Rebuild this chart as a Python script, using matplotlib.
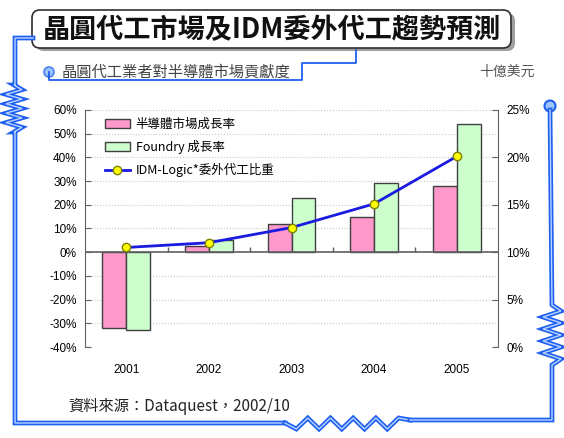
import matplotlib.pyplot as plt
import matplotlib.transforms as mtransforms
from matplotlib.lines import Line2D
from matplotlib.patches import Patch, FancyBboxPatch, Circle
import numpy as np

years = ["2001", "2002", "2003", "2004", "2005"]
semi_growth = [-32, 2.5, 12, 15, 28]          # 半導體市場成長率 (%)
foundry_growth = [-33, 5, 23, 29, 54]         # Foundry 成長率 (%)
idm_share = [10.5, 11.0, 12.6, 15.1, 20.1]    # IDM-Logic*委外代工比重 (%)

plt.rcParams['font.family'] = ['Liberation Sans', 'Noto Sans CJK TC', 'DejaVu Sans']

W, H = 564, 438
fig = plt.figure(figsize=(W / 100, H / 100), dpi=100)
fig.patch.set_facecolor('white')

# pixel coordinates (origin top-left) -> figure
pix = mtransforms.Affine2D().scale(1 / W, -1 / H).translate(0, 1) + fig.transFigure

ax = fig.add_axes([85 / W, 1 - 347 / H, 413 / W, 237 / H])
x = np.arange(len(years))
bw = 0.29
ax.bar(x - bw / 2, semi_growth, bw, color='#ff99cc', edgecolor='#404040', lw=1, zorder=3)
ax.bar(x + bw / 2, foundry_growth, bw, color='#ccffcc', edgecolor='#404040', lw=1, zorder=3)

ax.set_xlim(-0.5, len(years) - 0.5)
ax.set_ylim(-40, 60)
ax.set_yticks(range(-40, 61, 10))
ax.set_yticklabels([f"{v}%" for v in range(-40, 61, 10)], fontsize=8.5)
for v in range(-40, 61, 10):
    if v != 0:
        ax.axhline(v, color='#c8c8c8', lw=0.8, ls=':', zorder=1)
ax.axhline(0, color='#606060', lw=1.2, zorder=4)
ax.vlines(np.arange(0.5, len(years) - 1), 0, 2, color='#606060', lw=1, zorder=4)
ax.set_xticks(x)
ax.set_xticklabels(years, fontsize=8.5)
ax.tick_params(axis='x', length=0, pad=12)
ax.tick_params(axis='y', direction='in', length=4, color='#606060', pad=6)
for s in ['top', 'bottom', 'right']:
    ax.spines[s].set_visible(False)
ax.spines['left'].set_color('#606060')

ax2 = ax.twinx()
ax2.plot(x, idm_share, color='#1a1ae0', lw=2, marker='o', ms=6,
         mfc='#ffff00', mec='#808000', mew=1, zorder=5)
ax2.set_ylim(0, 25)
ax2.set_yticks(range(0, 26, 5))
ax2.set_yticklabels([f"{v}%" for v in range(0, 26, 5)], fontsize=8.5)
ax2.tick_params(axis='y', direction='in', length=4, color='#606060', pad=6)
for s in ['top', 'bottom', 'left']:
    ax2.spines[s].set_visible(False)
ax2.spines['right'].set_color('#606060')

handles = [Patch(facecolor='#ff99cc', edgecolor='#404040'),
           Patch(facecolor='#ccffcc', edgecolor='#404040'),
           Line2D([], [], color='#1a1ae0', lw=2, marker='o', ms=6, mfc='#ffff00', mec='#808000')]
labels = ["半導體市場成長率", "Foundry 成長率", "IDM-Logic*委外代工比重"]
ax2.legend(handles, labels, loc='upper left', bbox_to_anchor=(0.02, 1.015), frameon=False,
           handlelength=2.0, handletextpad=0.5, labelspacing=0.75,
           prop={'family': ['Noto Sans CJK TC', 'DejaVu Sans'], 'size': 9})

# ---- decorations: blue frame ----
blue = '#1f5ff0'
light = '#b8d4ff'


def frame_line(xs, ys):
    fig.add_artist(Line2D(xs, ys, transform=pix, color=blue, lw=3.4, solid_joinstyle='miter'))
    fig.add_artist(Line2D(xs, ys, transform=pix, color=light, lw=1.0, solid_joinstyle='miter'))


def zig_v(xc, y0, y1, amp, n):
    ys = np.linspace(y0, y1, 2 * n + 1)
    xs = [xc] + [xc + (amp if i % 2 else -amp) for i in range(1, 2 * n)] + [xc]
    return xs, list(ys)


# left side
zx, zy = zig_v(14, 85, 132, 8, 5)
frame_line([33, 15, 15] + zx + [15, 15, 285],
           [38, 38, 85] + zy + [132, 423, 423])
# bottom zigzag
bx = list(np.linspace(285, 410, 12))
by = [423] + [429 if i % 2 else 418 for i in range(1, 11)] + [420]
frame_line(bx, by)
# right side
rx, ry = zig_v(552, 365, 305, 9, 5)
frame_line([410, 552, 552] + rx + [552, 550],
           [420, 420, 365] + ry + [305, 110])
fig.add_artist(Circle((550, 106), 5.5, transform=pix, facecolor='#9cc4ff', edgecolor=blue, lw=1.5))

# title box
fig.add_artist(FancyBboxPatch((36, 13), 479, 38, boxstyle='round,pad=0,rounding_size=8',
                              transform=pix, facecolor='#a0a0a0', edgecolor='none'))
fig.add_artist(FancyBboxPatch((32, 10), 479, 38, boxstyle='round,pad=0,rounding_size=8',
                              transform=pix, facecolor='white', edgecolor='#303030', lw=1.2))
fig.text(272, 30, "晶圓代工市場及IDM委外代工趨勢預測", transform=pix, ha='center', va='center',
         fontsize=19.5, fontweight='bold', family=['Noto Sans CJK TC', 'DejaVu Sans'], color='#111111')

# subtitle bracket
fig.add_artist(Line2D([49, 49, 302, 302, 356, 356], [72, 80, 80, 63, 63, 50], transform=pix,
                      color=blue, lw=1.3))
fig.add_artist(Circle((49, 72), 5, transform=pix, facecolor='#9cc4ff', edgecolor='#4a80f0', lw=1.2))
fig.text(62, 72, "晶圓代工業者對半導體市場貢獻度", transform=pix, ha='left', va='center',
         fontsize=11, family=['Noto Sans CJK TC', 'DejaVu Sans'], color='#444444')
fig.text(535, 72, "十億美元", transform=pix, ha='right', va='center',
         fontsize=10, family=['Noto Sans CJK TC', 'DejaVu Sans'], color='#555555')

fig.text(68, 406, "資料來源：Dataquest，2002/10", transform=pix, ha='left', va='center',
         fontsize=11, family=['Noto Sans CJK TC', 'DejaVu Sans'], color='#222222')

fig.savefig('out.png', dpi=100)
